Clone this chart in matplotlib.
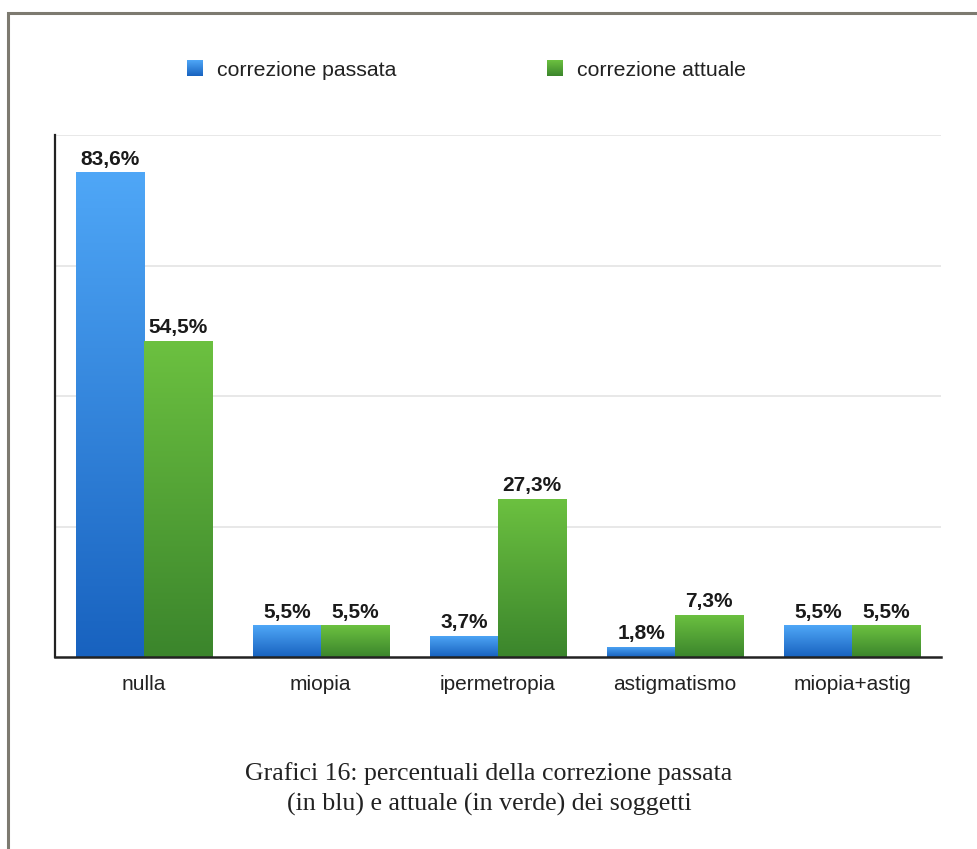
import numpy as np
import matplotlib
matplotlib.use("Agg")
import matplotlib.pyplot as plt
from matplotlib.patches import Rectangle
from matplotlib.colors import LinearSegmentedColormap

categorie = ["nulla", "miopia", "ipermetropia", "astigmatismo", "miopia+astig"]
passata = [83.6, 5.5, 3.7, 1.8, 5.5]
attuale = [54.5, 5.5, 27.3, 7.3, 5.5]
serie_nomi = ["correzione passata", "correzione attuale"]
didascalia = "Grafici 16: percentuali della correzione passata\n(in blu) e attuale (in verde) dei soggetti"

blu = LinearSegmentedColormap.from_list("blu", ["#1862bf", "#4fa7f7"])
verde = LinearSegmentedColormap.from_list("verde", ["#3b852c", "#6cc140"])

plt.rcParams["font.family"] = ["Liberation Sans", "DejaVu Sans"]

fig = plt.figure(figsize=(9.77, 8.49), dpi=100)

# cornice grigia della pagina
fig.patches.append(Rectangle((8 / 977, -0.01), 1.0, (849 - 13) / 849 + 0.01,
                             transform=fig.transFigure, fill=False,
                             edgecolor="#7d7a70", linewidth=2.2))

ax = fig.add_axes([55 / 977, 192 / 849, 886 / 977, 522 / 849])
ax.set_xlim(0, 5)
ax.set_ylim(0, 90)

for y in [22.5, 45, 67.5, 90]:
    ax.axhline(y, color="#e4e4e4", linewidth=1.2, zorder=0)

x = np.arange(len(categorie)) + 0.5
w = 0.384
grad = np.linspace(0, 1, 256).reshape(-1, 1)


def barre_gradiente(pos, valori, cmap):
    barre = ax.bar(pos, valori, width=w, color="none", edgecolor="none", zorder=2)
    for b in barre:
        x0, y0 = b.get_x(), b.get_y()
        im = ax.imshow(grad, cmap=cmap, origin="lower", aspect="auto",
                       extent=[x0, x0 + b.get_width(), y0, y0 + b.get_height()],
                       zorder=2)
        im.set_clip_path(b)
    return barre


barre_gradiente(x - w / 2, passata, blu)
barre_gradiente(x + w / 2, attuale, verde)
ax.set_xlim(0, 5)
ax.set_ylim(0, 90)

for xi, v in zip(x - w / 2, passata):
    ax.text(xi, v + 0.6, f"{v:.1f}%".replace(".", ","), ha="center", va="bottom",
            fontsize=15, fontweight="bold", color="#1a1a1a")
for xi, v in zip(x + w / 2, attuale):
    ax.text(xi, v + 0.6, f"{v:.1f}%".replace(".", ","), ha="center", va="bottom",
            fontsize=15, fontweight="bold", color="#1a1a1a")

ax.set_xticks(x)
ax.set_xticklabels(categorie, fontsize=15, color="#222222")
ax.tick_params(axis="x", length=0, pad=13)
ax.set_yticks([])
for s in ["top", "right"]:
    ax.spines[s].set_visible(False)
ax.spines["left"].set_color("#222222")
ax.spines["left"].set_linewidth(1.6)
ax.spines["bottom"].set_color("#222222")
ax.spines["bottom"].set_linewidth(1.8)

# legenda
leg_x = [187, 547]
for lx, nome, cmap in zip(leg_x, serie_nomi, [blu, verde]):
    lax = fig.add_axes([lx / 977, (849 - 76) / 849, 16 / 977, 16 / 849])
    lax.imshow(grad, cmap=cmap, origin="lower", aspect="auto")
    lax.axis("off")
    fig.text((lx + 30) / 977, (849 - 70) / 849, nome, fontsize=15.3,
             color="#222222", va="center", ha="left")

fig.text(489 / 977, (849 - 789) / 849, didascalia, ha="center", va="center",
         fontsize=18.6, family=["Liberation Serif", "DejaVu Serif"],
         color="#222222", linespacing=1.5)

fig.savefig("out.png", dpi=100)
